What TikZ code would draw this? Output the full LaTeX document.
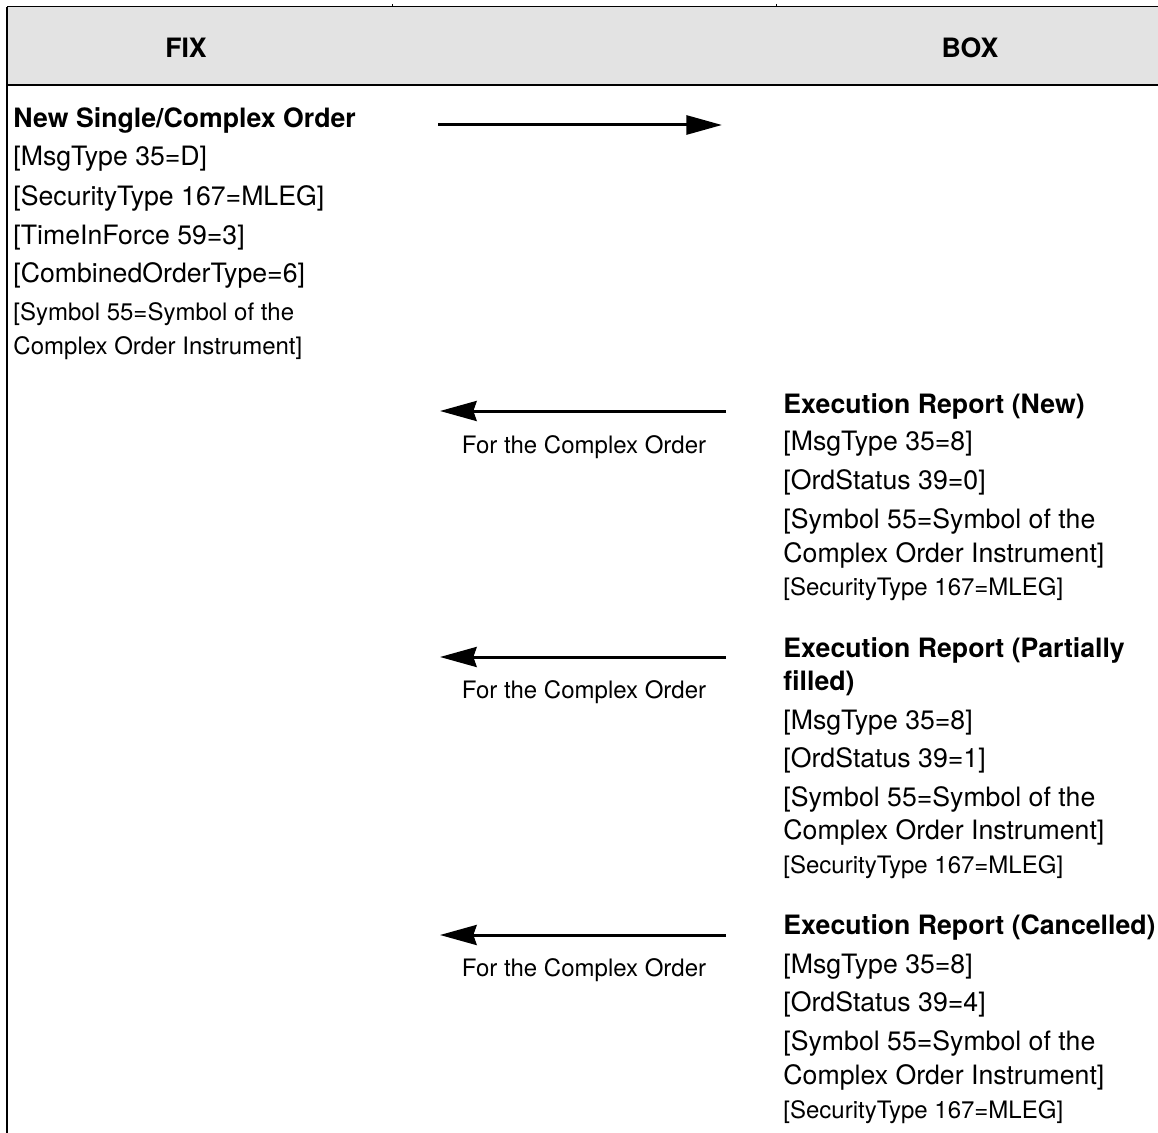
\documentclass[tikz,border=0pt]{standalone}
\usepackage{fontspec}
\setmainfont{TeX Gyre Heros}
\usetikzlibrary{arrows.meta}
\definecolor{enteteGris}{HTML}{E3E3E3}

\begin{document}
\begin{tikzpicture}[x=0.45pt,y=-0.45pt,
		grand/.style={font=\fontsize{12}{14}\selectfont, anchor=base west, inner sep=0pt},
		gras/.style={font=\fontsize{12}{14}\selectfont\bfseries, anchor=base west, inner sep=0pt},
		petit/.style={font=\fontsize{10.8}{13}\selectfont, anchor=base west, inner sep=0pt},
		titre/.style={font=\fontsize{12}{14}\selectfont\bfseries, inner sep=0pt},
		envoi/.style={line width=1.35pt, -{Triangle[length=16pt,width=8.5pt]}},
		retour/.style={line width=1.35pt, -{Stealth[length=16.5pt,width=9pt,inset=1.5pt]}}]
		\useasboundingbox (0,0) rectangle (1158,1133);
		\pgfmathsetmacro{\colFix}{13}  % marge gauche du texte FIX
		\pgfmathsetmacro{\colBox}{783} % marge gauche du texte BOX

		% en-tete gris et bordures
		\fill[enteteGris] (7,7) rectangle (1158,85);
		\draw[line width=0.45pt] (7,7) -- (1158,7);
		\draw[line width=0.45pt] (392,4) -- (392,7);
		\draw[line width=0.45pt] (776,4) -- (776,7);
		\draw[line width=1.3pt] (7,85) -- (1158,85);
		\draw[line width=0.9pt] (7,7) -- (7,1133);
		\node[titre] (fix) at (186,48) {FIX};
		\node[titre] (box) at (970,48) {BOX};

		% ordre envoye par FIX
		\node[gras] (ordre) at (\colFix,128) {New Single/Complex Order};
		\foreach \y/\t [count=\n] in {166/{[MsgType 35=D]}, 206/{[SecurityType 167=MLEG]},
				245/{[TimeInForce 59=3]}, 283/{[CombinedOrderType=6]}}{%
			\node[grand] (ordre\n) at (\colFix,\y) {\t};
		}
		\node[petit] (ordreSym) at (\colFix,321) {[Symbol 55=Symbol of the};
		\node[petit] (ordreSymB) at (\colFix,355) {Complex Order Instrument]};

		\coordinate (envoiA) at (438,125);
		\coordinate (envoiB) at (722,125);
		\draw[envoi] (envoiA) -- (envoiB);

		% fleches de retour (Execution Report)
		\foreach \y/\ly [count=\n] in {411/447, 657/692, 935/970}{%
			\coordinate (depart\n) at (726,\y);
			\coordinate (arrivee\n) at (440,\y);
			\draw[retour] (depart\n) -- (arrivee\n);
			\node[petit, anchor=center] (pour\n) at (584,\ly) {For the Complex Order};
		}

		% rapport : New
		\node[gras] (nouveau) at (\colBox,413) {Execution Report (New)};
		\foreach \y/\t [count=\n] in {450/{[MsgType 35=8]}, 489/{[OrdStatus 39=0]},
				528/{[Symbol 55=Symbol of the}, 562/{Complex Order Instrument]}}{%
			\node[grand] (nouveau\n) at (\colBox,\y) {\t};
		}
		\node[petit] (nouveauType) at (\colBox,595) {[SecurityType 167=MLEG]};

		% rapport : Partially filled
		\node[gras] (partiel) at (\colBox,657) {Execution Report (Partially};
		\node[gras] (partielB) at (\colBox,690) {filled)};
		\foreach \y/\t [count=\n] in {729/{[MsgType 35=8]}, 767/{[OrdStatus 39=1]},
				806/{[Symbol 55=Symbol of the}, 839/{Complex Order Instrument]}}{%
			\node[grand] (partiel\n) at (\colBox,\y) {\t};
		}
		\node[petit] (partielType) at (\colBox,873) {[SecurityType 167=MLEG]};

		% rapport : Cancelled
		\node[gras] (annule) at (\colBox,934) {Execution Report (Cancelled)};
		\foreach \y/\t [count=\n] in {973/{[MsgType 35=8]}, 1011/{[OrdStatus 39=4]},
				1050/{[Symbol 55=Symbol of the}, 1084/{Complex Order Instrument]}}{%
			\node[grand] (annule\n) at (\colBox,\y) {\t};
		}
		\node[petit] (annuleType) at (\colBox,1118) {[SecurityType 167=MLEG]};
	\end{tikzpicture}
\end{document}
